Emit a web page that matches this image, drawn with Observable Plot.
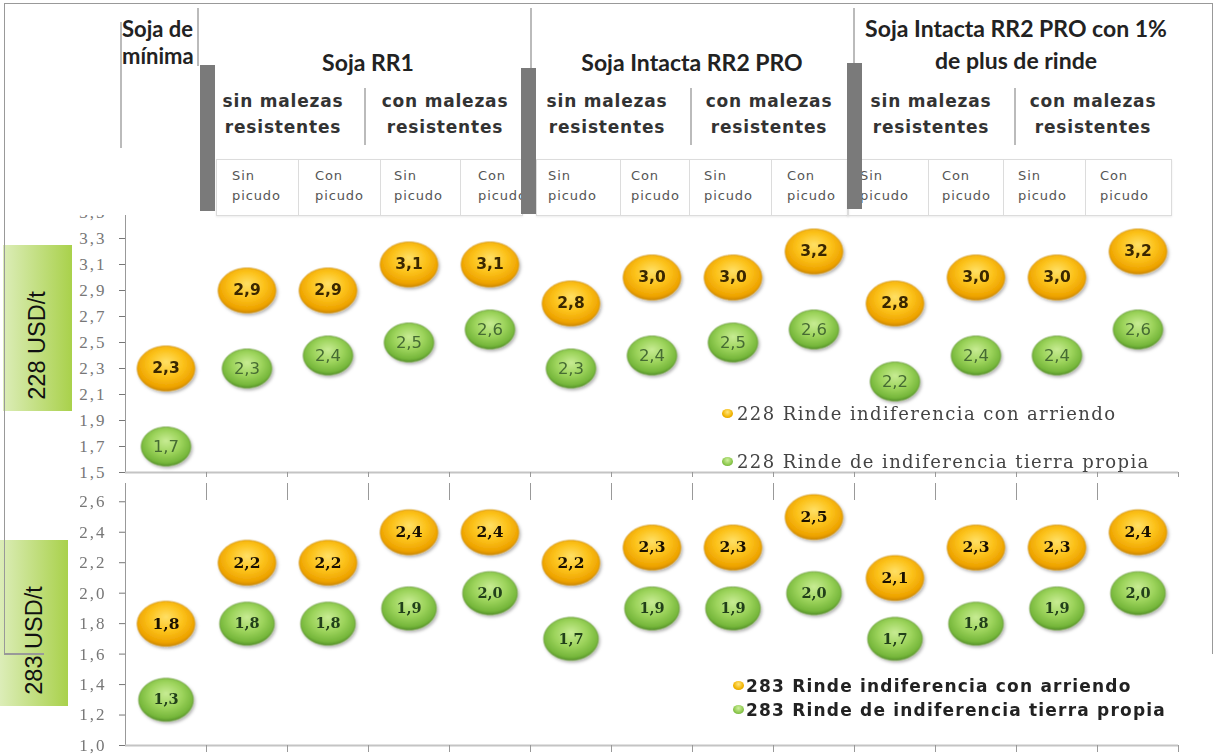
<!DOCTYPE html>
<html><head><meta charset="utf-8">
<script src="https://cdn.jsdelivr.net/npm/d3@7"></script>
<script src="https://cdn.jsdelivr.net/npm/@observablehq/plot@0.6"></script>
<style>
body{margin:0;background:#fff;}
#wrap{position:relative;width:1217px;height:756px;overflow:hidden;background:#fff;}
.abs{position:absolute;}
.title{font-family:Lato,"Open Sans",sans-serif;font-weight:700;font-size:23px;color:#222;white-space:nowrap;line-height:32px;text-align:center;}
.sub{font-family:"DejaVu Sans",sans-serif;font-weight:700;font-size:17px;letter-spacing:0.8px;color:#333;white-space:nowrap;line-height:26px;text-align:center;transform:translateX(-50%);}
.cell{font-family:"DejaVu Sans",sans-serif;font-size:13px;letter-spacing:0.9px;color:#555;line-height:20px;white-space:nowrap;}
.vline{background:#bbb;width:1.5px;}
.bar{background:#7a7a7a;width:15px;}
.ybox{background:linear-gradient(to right,#dcedb8,#a9d14b);display:flex;align-items:center;justify-content:center;}
.ybox span{transform:rotate(-90deg);font-family:"Liberation Sans",Arial,sans-serif;font-size:23.5px;color:#111;white-space:nowrap;}
.leg1{font-family:"DejaVu Serif",serif;font-size:18px;letter-spacing:1.4px;color:#444;white-space:nowrap;line-height:20px;}
.leg2{font-family:"DejaVu Sans",sans-serif;font-weight:700;font-size:17px;letter-spacing:1.2px;color:#222;white-space:nowrap;line-height:20px;}
.bul{width:11px;height:9px;border-radius:50%;}
</style></head>
<body><div id="wrap"></div>
<svg width="0" height="0" style="position:absolute">
<defs>
<radialGradient id="gOr" cx="50%" cy="42%" r="60%" fx="50%" fy="35%">
<stop offset="0" stop-color="#ffe066"/><stop offset="0.5" stop-color="#fcc21a"/><stop offset="0.85" stop-color="#eea300"/><stop offset="1" stop-color="#c98300"/>
</radialGradient>
<radialGradient id="gGr" cx="50%" cy="42%" r="60%" fx="50%" fy="35%">
<stop offset="0" stop-color="#c8ec94"/><stop offset="0.5" stop-color="#9dd45c"/><stop offset="0.85" stop-color="#76b73b"/><stop offset="1" stop-color="#4f8c25"/>
</radialGradient>
<filter id="shadow" x="-20%" y="-20%" width="150%" height="160%">
<feDropShadow dx="1.5" dy="2" stdDeviation="1.6" flood-color="#000" flood-opacity="0.3"/>
</filter>
</defs></svg>
<script>
// ---------- data ----------
const columns = [
  "Soja de mínima",
  "RR1 sin malezas res. Sin picudo", "RR1 sin malezas res. Con picudo",
  "RR1 con malezas res. Sin picudo", "RR1 con malezas res. Con picudo",
  "Intacta sin malezas res. Sin picudo", "Intacta sin malezas res. Con picudo",
  "Intacta con malezas res. Sin picudo", "Intacta con malezas res. Con picudo",
  "Intacta +1% sin malezas res. Sin picudo", "Intacta +1% sin malezas res. Con picudo",
  "Intacta +1% con malezas res. Sin picudo", "Intacta +1% con malezas res. Con picudo"
];
const arriendo228 = [2.3, 2.9, 2.9, 3.1, 3.1, 2.8, 3.0, 3.0, 3.2, 2.8, 3.0, 3.0, 3.2];
const propia228   = [1.7, 2.3, 2.4, 2.5, 2.6, 2.3, 2.4, 2.5, 2.6, 2.2, 2.4, 2.4, 2.6];
const arriendo283 = [1.8, 2.2, 2.2, 2.4, 2.4, 2.2, 2.3, 2.3, 2.5, 2.1, 2.3, 2.3, 2.4];
const propia283   = [1.3, 1.8, 1.8, 1.9, 2.0, 1.7, 1.9, 1.9, 2.0, 1.7, 1.8, 1.9, 2.0];
const yTicks228 = [1.5, 1.7, 1.9, 2.1, 2.3, 2.5, 2.7, 2.9, 3.1, 3.3, 3.5];
const yTicks283 = [1.0, 1.2, 1.4, 1.6, 1.8, 2.0, 2.2, 2.4, 2.6];
const groupTitles = ["Soja de\nmínima", "Soja RR1", "Soja Intacta RR2 PRO", "Soja Intacta RR2 PRO con 1%\nde plus de rinde"];
const subTitles = ["sin malezas\nresistentes", "con malezas\nresistentes"];
const cellTitles = ["Sin\npicudo", "Con\npicudo"];
const legend228 = ["228 Rinde indiferencia con arriendo", "228 Rinde de indiferencia tierra propia"];
const legend283 = ["283 Rinde indiferencia con arriendo", "283 Rinde de indiferencia tierra propia"];
const panelLabels = ["228 USD/t", "283 USD/t"];

// ---------- helpers ----------
const fmt = d => d.toFixed(1).replace(".", ",");
const ellipse = (aspect) => ({
  draw(context, size) {
    const r = Math.sqrt(size / Math.PI), rx = r * aspect, ry = r, k = 0.5523;
    context.moveTo(rx, 0);
    context.bezierCurveTo(rx, k * ry, k * rx, ry, 0, ry);
    context.bezierCurveTo(-k * rx, ry, -rx, k * ry, -rx, 0);
    context.bezierCurveTo(-rx, -k * ry, -k * rx, -ry, 0, -ry);
    context.bezierCurveTo(k * rx, -ry, rx, -k * ry, rx, 0);
    context.closePath();
  }
});
const wrap = document.getElementById("wrap");
function el(cls, css, html) {
  const d = document.createElement("div");
  d.className = "abs " + (cls || "");
  Object.assign(d.style, css);
  if (html != null) d.innerHTML = html;
  wrap.appendChild(d);
  return d;
}

function panel(o) {
  const rows = vals => vals.map((v, i) => ({i, col: columns[i], v}));
  const A = rows(o.arr), P = rows(o.prop);
  const plot = Plot.plot({
    width: 1217, height: o.height,
    marginLeft: 125, marginRight: 39, marginTop: o.mt, marginBottom: o.mb,
    style: {background: "transparent", overflow: "visible", fontFamily: "'Liberation Serif', serif", fontSize: "17px"},
    x: {domain: [0, columns.length], axis: null},
    y: {domain: o.domain, axis: null},
    marks: [
      Plot.axisY({ticks: o.ticks, tickFormat: fmt, tickSize: 6, tickPadding: 13, color: "#777", label: null}),
      Plot.ruleX([0], {stroke: "#999"}),
      Plot.ruleY([o.domain[0]], {stroke: "#c4c4c4", strokeWidth: 2}),
      Plot.axisX({ticks: d3.range(1, columns.length + 1), tickSize: o.tickDown, tickFormat: () => "", stroke: "#999", label: null}),
      o.topTicks ? Plot.ruleX(d3.range(1, columns.length), {stroke: "#999", insetBottom: o.topTicks}) : null,
      Plot.dot(P, {x: d => d.i + 0.5, y: "v", r: o.rGr, symbol: ellipse(1.27), fill: "url(#gGr)", stroke: "#5d8f2c", strokeWidth: 0.6}),
      Plot.dot(A, {x: d => d.i + 0.5, y: "v", r: o.rOr, symbol: ellipse(1.28), fill: "url(#gOr)", stroke: "#c88a10", strokeWidth: 0.6}),
      Plot.text(A, {x: d => d.i + 0.5, y: "v", text: d => fmt(d.v), ...o.txtOr}),
      Plot.text(P, {x: d => d.i + 0.5, y: "v", text: d => fmt(d.v), ...o.txtGr})
    ]
  });
  d3.select(plot).selectAll('g[aria-label="dot"]').attr("filter", "url(#shadow)");
  d3.select(plot).selectAll('g[aria-label="y-axis tick label"]').style("letter-spacing", "2px");
  plot.style.position = "absolute";
  plot.style.left = "0px";
  plot.style.top = o.top + "px";
  wrap.appendChild(plot);
  return plot;
}

// ---------- left panel boxes ----------
el("ybox", {left: "3px", top: "245px", width: "69px", height: "166px", paddingTop: "34px", boxSizing: "border-box"}, `<span>${panelLabels[0]}</span>`);
el("ybox", {left: "0px", top: "540px", width: "68px", height: "166px", paddingTop: "34px", boxSizing: "border-box"}, `<span>${panelLabels[1]}</span>`);

// ---------- panels ----------
const topPanel = panel({
  arr: arriendo228, prop: propia228, domain: [1.5, 3.5], ticks: yTicks228,
  top: 196, height: 290, mt: 16, mb: 14, rOr: 22.5, rGr: 19.5, tickDown: 5,
  txtOr: {fontFamily: "'DejaVu Sans', sans-serif", fontWeight: "bold", fontSize: 15.5, fill: "#3a2700"},
  txtGr: {fontFamily: "'DejaVu Sans', sans-serif", fontSize: 16.5, fill: "#466b33"}
});
const bottomPanel = panel({
  arr: arriendo283, prop: propia283, domain: [1.0, 2.72], ticks: yTicks283,
  top: 470, height: 286, mt: 13, mb: 11, rOr: 22.5, rGr: 21.5, tickDown: 7, topTicks: 245,
  txtOr: {fontFamily: "'DejaVu Serif', serif", fontWeight: "bold", fontSize: 15.5, fill: "#1a1000"},
  txtGr: {fontFamily: "'DejaVu Serif', serif", fontWeight: "bold", fontSize: 14.5, fill: "#22401a"}
});

// ---------- header ----------
const xs = topPanel.scale("x");
const colX = k => xs.apply(k);
el("", {left: "0px", top: "0px", width: "1217px", height: "215px", background: "#fff"});
// group titles
el("title", {left: "122px", top: "15px", textAlign: "left", lineHeight: "27px", fontSize: "22px"}, groupTitles[0].replace("\n", "<br>"));
[[1, 5, 46], [5, 9, 46], [9, 13, 12]].forEach(([a, b, t], gi) => {
  el("title", {left: (colX(a) + colX(b)) / 2 + "px", top: t + "px", transform: "translateX(-50%)"}, groupTitles[gi + 1].replace("\n", "<br>"));
});
// thin dividers
[[120, 22, 126], [197, 8, 58], [530, 8, 62], [853, 8, 58], [364, 88, 57], [690, 88, 57], [1014, 88, 57]].forEach(([x, y, h]) =>
  el("vline", {left: x + "px", top: y + "px", height: h + "px"}));
// sub titles
for (let g = 0; g < 3; g++) for (let s = 0; s < 2; s++) {
  const a = 1 + g * 4 + s * 2;
  el("sub", {left: (colX(a) + colX(a + 2)) / 2 - 4 + "px", top: "88px"}, subTitles[s].replace("\n", "<br>"));
}
// cells
const cellEdges = [[216, 298, 380, 460, 521], [536, 620, 689, 771, 847], [847, 928, 1003, 1085, 1170]];
const cellText = [232, 315, 394, 478, 548, 631, 704, 787, 860, 942, 1018, 1100];
cellEdges.forEach((edges, g) => {
  el("", {left: edges[0] + "px", top: "159px", width: edges[4] - edges[0] + "px", height: "55px", border: "1px solid #dcdcdc", boxShadow: "0 1px 2px rgba(0,0,0,0.08)"});
  edges.slice(1, 4).forEach(x => el("", {left: x + "px", top: "159px", width: "1px", height: "56px", background: "#dcdcdc"}));
});
cellText.forEach((x, i) => el("cell", {left: x + "px", top: "166px"}, cellTitles[i % 2].replace("\n", "<br>")));
// thick bars
[[200, 65], [521, 68], [847, 63]].forEach(([x, y]) => el("bar", {left: x + "px", top: y + "px", height: "146px"}));

// ---------- legends ----------
const bulOr = "radial-gradient(circle at 50% 35%, #ffe680, #f2b400 60%, #b88000)";
const bulGr = "radial-gradient(circle at 50% 35%, #d0f0a0, #8cc84c 60%, #4f8a25)";
el("bul", {left: "722px", top: "409px", background: bulOr});
el("leg1", {left: "737px", top: "404px"}, legend228[0]);
el("bul", {left: "722px", top: "457px", background: bulGr});
el("leg1", {left: "737px", top: "452px"}, legend228[1]);
el("bul", {left: "733px", top: "681px", background: bulOr});
el("leg2", {left: "746px", top: "676px"}, legend283[0]);
el("bul", {left: "733px", top: "705px", background: bulGr});
el("leg2", {left: "746px", top: "700px"}, legend283[1]);

// ---------- outer frame ----------
el("", {left: "4px", top: "3px", width: "1207px", height: "650px", borderTop: "1.5px solid #999", borderLeft: "1.5px solid #999", borderRight: "1.5px solid #999"});
el("", {left: "4px", top: "653px", width: "40px", height: "1.5px", background: "#999"});
</script>
</body></html>
